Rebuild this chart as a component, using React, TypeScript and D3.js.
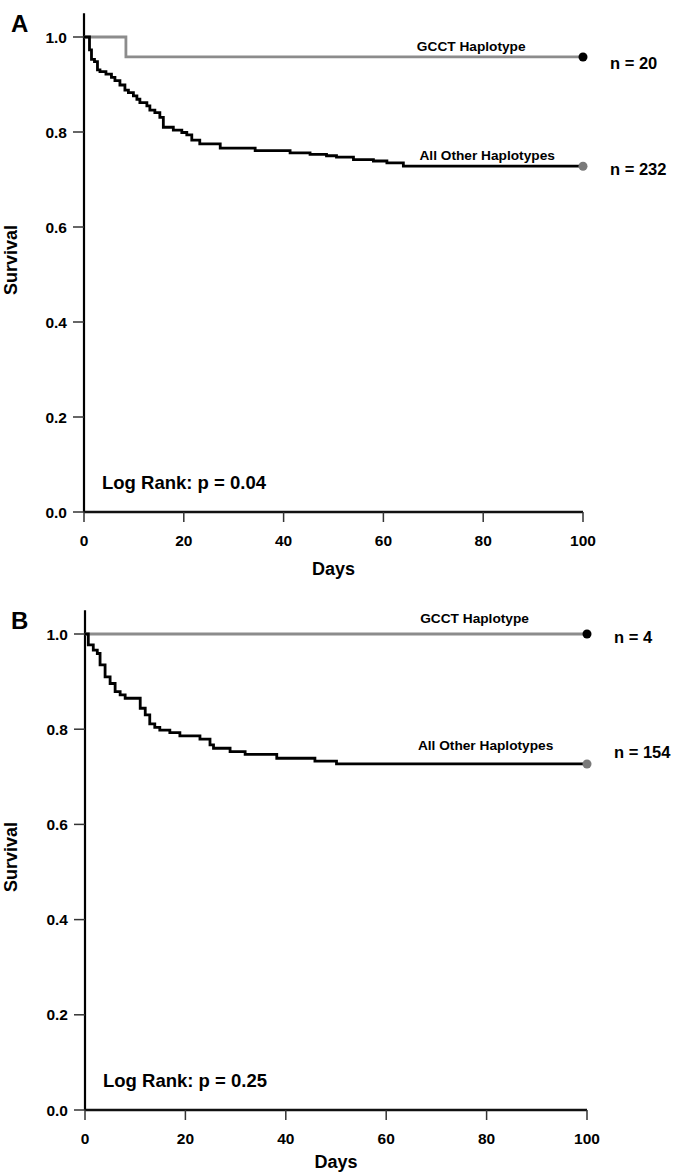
import React, { useEffect, useRef } from 'react';
import * as d3 from 'd3';

// tick values
const xTicks = [0, 20, 40, 60, 80, 100];
const yTicks = [0, 0.2, 0.4, 0.6, 0.8, 1.0];

// Kaplan-Meier steps [day, survival]
const gcctA = [[0, 1], [8.4, 0.958]];
const otherA = [
    [0, 1], [1.1, 0.973], [1.5, 0.953], [2.1, 0.948], [2.7, 0.931], [3.2, 0.927], [4.4, 0.922],
    [5.5, 0.915], [6.2, 0.908], [7.2, 0.899], [8.2, 0.888], [8.9, 0.883], [9.9, 0.876],
    [10.6, 0.869], [11.2, 0.862], [12.6, 0.855], [13.2, 0.846], [14.2, 0.841], [15.2, 0.831],
    [15.9, 0.81], [17.9, 0.804], [19.6, 0.799], [20.6, 0.794], [21.6, 0.783], [23.2, 0.775],
    [27.3, 0.766], [34.3, 0.761], [41.3, 0.756], [45.3, 0.753], [48.6, 0.75], [50.6, 0.747],
    [54, 0.742], [58, 0.739], [60.7, 0.735], [64, 0.728]
];
const gcctB = [[0, 1]];
const otherB = [
    [0, 1], [0.66, 0.977], [1.65, 0.966], [2.45, 0.959], [3.0, 0.935], [4.0, 0.91], [5.0, 0.896],
    [6.0, 0.879], [7.0, 0.872], [8.0, 0.865], [11.0, 0.844], [12.0, 0.83], [12.9, 0.811],
    [13.9, 0.804], [14.9, 0.798], [16.9, 0.793], [18.9, 0.786], [22.9, 0.779], [24.9, 0.767],
    [25.6, 0.76], [28.9, 0.753], [31.9, 0.747], [38.2, 0.739], [45.8, 0.733], [50.1, 0.727]
];

const panels = [
    {
        letter: 'A', x0: 84, x1: 583, y0: 512, y1: 37,
        gcct: gcctA, other: otherA, nGcct: 'n = 20', nOther: 'n = 232', p: 'Log Rank: p = 0.04',
        gcctLbl: 6, otherLbl: 6, nGcctDy: 12, nOtherDy: 9, daysDy: 63, survY: 260, otherX: 80.8
    },
    {
        letter: 'B', x0: 85, x1: 587, y0: 1110, y1: 634,
        gcct: gcctB, other: otherB, nGcct: 'n = 4', nOther: 'n = 154', p: 'Log Rank: p = 0.25',
        gcctLbl: 11, otherLbl: 14, nGcctDy: 9, nOtherDy: -6, daysDy: 58, survY: 857, otherX: 79.8
    }
];

const FONT = '"Liberation Sans", Arial, Helvetica, sans-serif';

export default function App() {
    const ref = useRef<SVGSVGElement>(null);

    useEffect(() => {
        const svg = d3.select(ref.current);
        svg.selectAll('*').remove();
        svg.style('font-family', FONT).style('font-weight', 'bold');

        panels.forEach(p => {
            const x = d3.scaleLinear().domain([0, 100]).range([p.x0, p.x1]);
            const y = d3.scaleLinear().domain([0, 1]).range([p.y0, p.y1]);
            const g = svg.append('g');

            // axes
            g.append('line').attr('x1', x(0)).attr('x2', x(0)).attr('y1', y(0)).attr('y2', y(1.05))
                .attr('stroke', '#000').attr('stroke-width', 2.2);
            g.append('line').attr('x1', x(0)).attr('x2', x(100)).attr('y1', y(0)).attr('y2', y(0))
                .attr('stroke', '#111').attr('stroke-width', 2.6);

            yTicks.forEach(t => {
                g.append('line').attr('x1', x(0) - 11).attr('x2', x(0)).attr('y1', y(t)).attr('y2', y(t))
                    .attr('stroke', '#333').attr('stroke-width', 1.5);
                g.append('text').attr('x', x(0) - 17).attr('y', y(t)).attr('dy', '0.36em')
                    .attr('text-anchor', 'end').style('font-size', '15.5px').text(t.toFixed(1));
            });
            xTicks.forEach(t => {
                g.append('line').attr('x1', x(t)).attr('x2', x(t)).attr('y1', y(0)).attr('y2', y(0) + 10)
                    .attr('stroke', '#333').attr('stroke-width', 1.5);
                g.append('text').attr('x', x(t)).attr('y', y(0) + 34)
                    .attr('text-anchor', 'middle').style('font-size', '15.5px').text(t);
            });

            g.append('text').attr('x', x(50)).attr('y', y(0) + p.daysDy)
                .attr('text-anchor', 'middle').style('font-size', '18px').text('Days');
            g.append('text').attr('transform', `translate(17,${p.survY}) rotate(-90)`)
                .attr('text-anchor', 'middle').style('font-size', '18px').text('Survival');
            g.append('text').attr('x', 11).attr('y', y(1) - 5)
                .style('font-size', '24px').text(p.letter);
            g.append('text').attr('x', x(0) + 18).attr('y', y(0) - 23)
                .style('font-size', '18.5px').text(p.p);

            // curves
            const line = d3.line<number[]>().x(d => x(d[0])).y(d => y(d[1])).curve(d3.curveStepAfter);
            const ext = (s: number[][]) => [...s, [100, s[s.length - 1][1]]];
            const series = [
                { data: ext(p.gcct), stroke: '#8c8c8c', dot: '#000', lbl: 'GCCT Haplotype', lblDy: p.gcctLbl, lx: 77.6, n: p.nGcct, nDy: p.nGcctDy },
                { data: ext(p.other), stroke: '#000', dot: '#7a7a7a', lbl: 'All Other Haplotypes', lblDy: p.otherLbl, lx: p.otherX, n: p.nOther, nDy: p.nOtherDy }
            ];
            series.forEach(s => {
                const last = s.data[s.data.length - 1];
                g.append('path').attr('d', line(s.data)).attr('fill', 'none')
                    .attr('stroke', s.stroke).attr('stroke-width', 2.8);
                g.append('circle').attr('cx', x(last[0])).attr('cy', y(last[1])).attr('r', 4.5).attr('fill', s.dot);
                g.append('text').attr('x', x(s.lx)).attr('y', y(last[1]) - s.lblDy)
                    .attr('text-anchor', 'middle').style('font-size', '13.7px').text(s.lbl);
                g.append('text').attr('x', x(100) + 27).attr('y', y(last[1]) + s.nDy)
                    .style('font-size', '16.5px').text(s.n);
            });
        });
    }, []);

    return (
        <svg ref={ref} width={673} height={1172}
            style={{ position: 'absolute', left: 0, top: 0, background: '#fff' }} />
    );
}
